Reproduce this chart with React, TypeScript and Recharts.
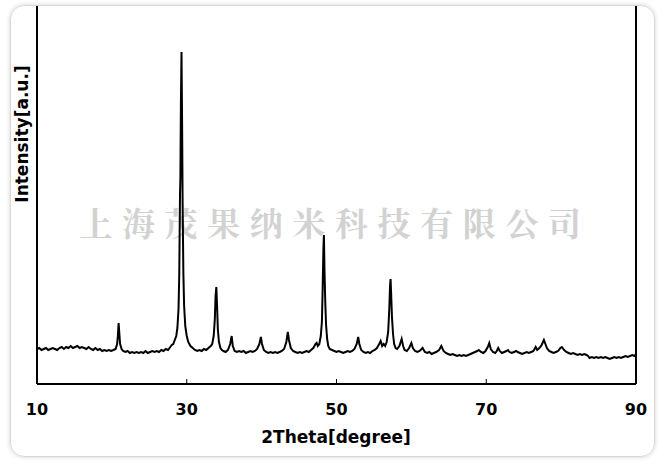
import React from "react";
import { LineChart, Line, XAxis, YAxis, ReferenceLine } from "recharts";

// 2θ (degree) / intensity (a.u.) pairs, grouped by region
const scanLow: [number, number][] = [
  [10.0, 35], [10.3, 36], [10.6, 34], [10.9, 35], [11.2, 36], [11.5, 34], [11.8, 35], [12.1, 36],
  [12.4, 35], [12.7, 34], [13.0, 36], [13.3, 37], [13.6, 35], [13.9, 37], [14.2, 36], [14.5, 38],
  [14.8, 36], [15.1, 37], [15.4, 38], [15.7, 36], [16.0, 37], [16.3, 36], [16.6, 35], [16.9, 37],
  [17.2, 35], [17.5, 34], [17.8, 36], [18.1, 34], [18.4, 35], [18.7, 33], [19.0, 34], [19.3, 33],
  [19.6, 34], [19.9, 33], [20.2, 34], [20.5, 35],
  [20.7, 40], [20.8, 48], [20.9, 61], [21.0, 50], [21.1, 40], [21.3, 35],
  [21.5, 33], [21.8, 32], [22.1, 33], [22.4, 31], [22.7, 32], [23.0, 31], [23.3, 32], [23.6, 31],
  [23.9, 32], [24.2, 31], [24.5, 33], [24.8, 31], [25.1, 32], [25.4, 33], [25.7, 32], [26.0, 33],
  [26.3, 32], [26.6, 34], [26.9, 33], [27.2, 35], [27.5, 34], [27.8, 37], [28.0, 39], [28.2, 40],
];

const peakMain: [number, number][] = [
  [28.4, 44], [28.6, 48], [28.75, 56], [28.9, 75], [29.0, 110], [29.1, 190], [29.15, 205],
  [29.22, 280], [29.3, 332], [29.38, 260], [29.45, 180], [29.55, 110], [29.65, 78], [29.8, 58],
  [30.0, 48], [30.2, 42], [30.5, 38], [30.8, 36],
];

const scanMid: [number, number][] = [
  [31.1, 34], [31.4, 33], [31.7, 34], [32.0, 33], [32.3, 35], [32.6, 34], [32.9, 36], [33.2, 38],
  [33.4, 40], [33.6, 48], [33.75, 65], [33.85, 88], [33.95, 97], [34.05, 78], [34.15, 55],
  [34.3, 42], [34.5, 36], [34.7, 34], [34.9, 33], [35.2, 32], [35.5, 34], [35.8, 40], [36.0, 48],
  [36.15, 38], [36.4, 33], [36.7, 32], [37.0, 33], [37.3, 32], [37.6, 33], [37.9, 31], [38.2, 32],
  [38.5, 33], [38.8, 32], [39.1, 33], [39.4, 35], [39.7, 40], [39.9, 47], [40.05, 40], [40.3, 34],
  [40.6, 32], [40.9, 31], [41.2, 32], [41.5, 31], [41.8, 32], [42.1, 31], [42.4, 32], [42.7, 33],
  [43.0, 35], [43.3, 42], [43.5, 52], [43.65, 44], [43.9, 36], [44.2, 33], [44.5, 32], [44.8, 31],
  [45.1, 32], [45.4, 31], [45.7, 32], [46.0, 33], [46.3, 32], [46.6, 34], [46.9, 36], [47.2, 40],
  [47.35, 41], [47.5, 38], [47.7, 40],
];

const peakSecond: [number, number][] = [
  [47.9, 48], [48.05, 62], [48.15, 95], [48.25, 135], [48.32, 149], [48.4, 112], [48.5, 82],
  [48.6, 60], [48.75, 45], [48.9, 38], [49.1, 35],
];

const scanUpper: [number, number][] = [
  [49.4, 34], [49.7, 33], [50.0, 32], [50.3, 33], [50.6, 32], [50.9, 31], [51.2, 32], [51.5, 33],
  [51.8, 32], [52.1, 33], [52.4, 35], [52.7, 40], [52.9, 47], [53.05, 40], [53.3, 34], [53.6, 32],
  [53.9, 31], [54.2, 32], [54.5, 31], [54.8, 33], [55.1, 34], [55.4, 36], [55.7, 40], [55.9, 43],
  [56.1, 38], [56.3, 40], [56.5, 38], [56.7, 42],
  [56.9, 52], [57.05, 75], [57.15, 98], [57.22, 105], [57.3, 90], [57.4, 68], [57.55, 50],
  [57.7, 40], [57.9, 36], [58.1, 35], [58.4, 38], [58.7, 45], [58.9, 38], [59.1, 34], [59.4, 33],
  [59.7, 36], [60.0, 41], [60.2, 36], [60.5, 33], [60.8, 32], [61.1, 33], [61.5, 36], [61.8, 32],
  [62.1, 31], [62.4, 32], [62.7, 30], [63.0, 31], [63.3, 32], [63.7, 34], [64.0, 38], [64.3, 33],
  [64.6, 31], [64.9, 30], [65.2, 29], [65.5, 30], [65.8, 29], [66.1, 28], [66.4, 29], [66.7, 28],
  [67.0, 29], [67.3, 28], [67.6, 29], [67.9, 30], [68.2, 31], [68.5, 32], [68.8, 33], [69.0, 34],
  [69.3, 32], [69.6, 31], [69.9, 33], [70.2, 37], [70.4, 41], [70.6, 35], [70.9, 32], [71.2, 31],
  [71.4, 33], [71.6, 36], [71.8, 33], [72.1, 31], [72.4, 32], [72.7, 33], [72.9, 34], [73.1, 32],
  [73.4, 31], [73.7, 32], [74.0, 33], [74.2, 32], [74.5, 31], [74.8, 30], [75.1, 31], [75.4, 32],
  [75.7, 31], [76.0, 32], [76.3, 33], [76.6, 37], [76.8, 34], [77.1, 36], [77.4, 39], [77.7, 44],
  [77.9, 40], [78.1, 36], [78.4, 33], [78.7, 32], [79.0, 31], [79.3, 32], [79.6, 33], [79.9, 36],
  [80.1, 37], [80.4, 34], [80.7, 32], [81.0, 31], [81.3, 30], [81.6, 31], [81.9, 30], [82.2, 29],
  [82.5, 30], [82.8, 29], [83.1, 30], [83.4, 29], [83.6, 28],
];

const scanTail: [number, number][] = [
  [83.8, 26], [84.1, 27], [84.4, 26], [84.7, 27], [85.0, 26], [85.3, 27], [85.6, 26], [85.9, 27],
  [86.2, 26], [86.5, 25], [86.8, 26], [87.1, 27], [87.4, 26], [87.7, 27], [88.0, 26], [88.3, 27],
  [88.6, 28], [88.9, 27], [89.2, 28], [89.5, 29], [89.8, 28], [90.0, 30],
];

const xTicks = [10, 30, 50, 70, 90];
const xTitle = "2Theta[degree]";
const yTitle = "Intensity[a.u.]";
const watermark = "上海茂果纳米科技有限公司";

const data = [...scanLow, ...peakMain, ...scanMid, ...peakSecond, ...scanUpper, ...scanTail].map(
  ([t, i]) => ({ t, i })
);

const FONT = "'DejaVu Sans', 'Liberation Sans', sans-serif";

export default function App() {
  return (
    <div
      style={{
        position: "fixed",
        left: 0,
        top: 0,
        width: 665,
        height: 464,
        background: "#fff",
        overflow: "hidden",
      }}
    >
      <div
        style={{
          position: "absolute",
          left: 10,
          top: 5,
          width: 645,
          height: 452,
          border: "1px solid #d8d8d8",
          borderRadius: 14,
          boxShadow: "0 0 4px rgba(0,0,0,0.18)",
          boxSizing: "border-box",
        }}
      />
      <div
        style={{
          position: "absolute",
          left: 60,
          top: 200,
          width: 550,
          textAlign: "center",
          fontFamily: "'Noto Serif CJK SC', 'Noto Sans CJK SC', serif",
          fontSize: 33,
          fontWeight: 700,
          letterSpacing: 9.6,
          color: "#d2d2d2",
          lineHeight: "44px",
          whiteSpace: "nowrap",
        }}
      >
        {watermark}
      </div>
      <div style={{ position: "absolute", left: 0, top: 0 }}>
        <LineChart
          width={665}
          height={464}
          data={data}
          margin={{ top: 6, right: 29, bottom: 0, left: 0 }}
        >
          <XAxis
            dataKey="t"
            type="number"
            domain={[10, 90]}
            ticks={xTicks}
            allowDataOverflow
            height={80}
            axisLine={{ stroke: "#000", strokeWidth: 2 }}
            tickLine={{ stroke: "#000", strokeWidth: 1 }}
            tickSize={-5}
            tickMargin={25}
            tick={{ fill: "#000", fontFamily: FONT, fontWeight: 700, fontSize: 16 }}
            label={{
              content: () => (
                <text
                  x={336}
                  y={443}
                  textAnchor="middle"
                  fill="#000"
                  fontFamily={FONT}
                  fontWeight={700}
                  fontSize={17}
                >
                  {xTitle}
                </text>
              ),
            }}
          />
          <YAxis
            type="number"
            domain={[0, 378]}
            allowDataOverflow
            width={37}
            tick={false}
            tickLine={false}
            axisLine={{ stroke: "#000", strokeWidth: 2 }}
            label={{
              content: () => (
                <text
                  x={28}
                  y={134}
                  transform="rotate(-90, 28, 134)"
                  textAnchor="middle"
                  fill="#000"
                  fontFamily={FONT}
                  fontWeight={700}
                  fontSize={17}
                >
                  {yTitle}
                </text>
              ),
            }}
          />
          <ReferenceLine x={90} stroke="#000" strokeWidth={2} ifOverflow="extendDomain" />
          <Line
            type="linear"
            dataKey="i"
            stroke="#000"
            strokeWidth={2}
            dot={false}
            isAnimationActive={false}
          />
        </LineChart>
      </div>
    </div>
  );
}
